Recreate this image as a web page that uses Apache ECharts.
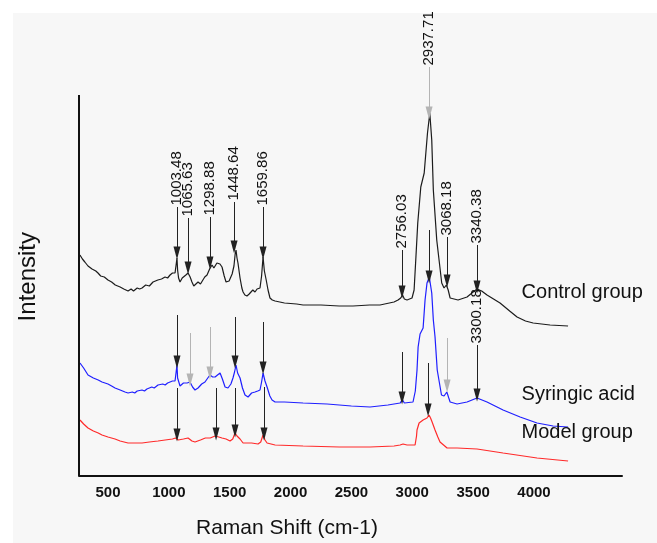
<!DOCTYPE html>
<html>
<head>
<meta charset="utf-8">
<script src="https://cdn.jsdelivr.net/npm/echarts@6/dist/echarts.min.js"></script>
<style>html,body{margin:0;padding:0;background:#fff;}#c{width:657px;height:543px;}</style>
</head>
<body>
<div id="c"></div>
<script>
// Raman shift (axis units) vs intensity (arbitrary units, offset stacked)
const tickLabels = [500, 1000, 1500, 2000, 2500, 3000, 3500, 4000];
const seriesNames = ['Control group', 'Syringic acid', 'Model group'];

const controlGroup = [[270,221],[290,217],[310,214],[336,210],[369,207],[400,205],[418,203],[440,200],[470,199],[500,196],[530,194],[560,191],[600,189],[630,187],[665,185],[690,187],[710,185],[740,188],[760,187],[780,188],[810,191],[840,190],[870,194],[886,194],[910,196],[940,197],[969,199],[990,198],[1010,201],[1030,203],[1051,203],[1060,204],[1067,218],[1072,206],[1080,198],[1092,194],[1110,198],[1125,196],[1140,201],[1158,203],[1175,199],[1190,194],[1205,190],[1215,191],[1240,194],[1260,192],[1273,193],[1295,199],[1314,201],[1335,207],[1355,211],[1370,208],[1380,209],[1395,213],[1404,213],[1420,212],[1437,209],[1455,200],[1470,194],[1478,194],[1495,195],[1503,196],[1520,202],[1535,210],[1545,222],[1552,226],[1560,218],[1568,213],[1585,198],[1600,188],[1610,184],[1625,181],[1642,180],[1660,182],[1675,184],[1690,186],[1708,184],[1725,187],[1749,188],[1762,200],[1774,219],[1785,205],[1800,196],[1815,186],[1831,178],[1850,176],[1873,175],[1950,173],[2050,172],[2103,171],[2250,171],[2400,170],[2513,170],[2650,171],[2735,171],[2850,174],[2883,176],[2905,178],[2920,181],[2935,177],[2957,176],[2998,178],[3015,186],[3030,219],[3045,253],[3070,289],[3098,303],[3125,343],[3144,363],[3160,336],[3173,286],[3201,236],[3242,193],[3261,188],[3280,191],[3295,186],[3311,178],[3376,176],[3450,179],[3500,184],[3532,187],[3570,185],[3614,181],[3721,173],[3800,165],[3861,159],[3930,155],[3993,153],[4132,151],[4280,150]];

const syringicAcid = [[270,113],[300,108],[336,101],[380,98],[420,96],[451,94],[500,92],[530,90],[558,88],[600,86],[640,84],[665,83],[700,84],[720,83],[740,85],[780,86],[800,85],[820,87],[860,89],[880,88],[911,91],[950,92],[970,91],[990,93],[1030,95],[1051,95],[1060,96],[1067,111],[1072,98],[1092,90],[1120,93],[1150,93],[1174,94],[1195,89],[1215,86],[1240,88],[1270,92],[1297,94],[1320,98],[1338,101],[1360,99],[1380,99],[1400,101],[1421,103],[1440,97],[1462,89],[1486,88],[1510,92],[1527,98],[1540,104],[1552,111],[1565,103],[1585,98],[1605,88],[1626,81],[1651,79],[1680,83],[1708,84],[1730,85],[1749,86],[1762,94],[1774,103],[1790,95],[1807,89],[1830,80],[1848,76],[1873,74],[1950,74],[2103,73],[2300,72],[2500,70],[2653,69],[2800,71],[2900,73],[2920,76],[2935,73],[3006,74],[3025,85],[3039,106],[3048,129],[3064,142],[3089,148],[3105,176],[3121,193],[3140,199],[3160,183],[3173,156],[3187,139],[3205,106],[3240,81],[3261,80],[3284,84],[3300,78],[3311,74],[3368,72],[3450,74],[3532,78],[3614,74],[3746,66],[3886,59],[4025,53],[4157,50],[4280,49]];

const modelGroup = [[270,56],[300,52],[336,48],[380,45],[420,43],[451,41],[500,39],[558,37],[600,35],[665,33],[720,33],[780,33],[840,34],[911,35],[970,36],[1030,37],[1055,38],[1067,40],[1078,36],[1092,35],[1120,37],[1158,38],[1190,35],[1215,34],[1260,36],[1300,38],[1340,38],[1380,40],[1410,39],[1437,38],[1470,37],[1503,35],[1525,37],[1544,43],[1560,40],[1585,37],[1610,33],[1626,32],[1680,33],[1733,32],[1755,34],[1774,41],[1790,36],[1807,33],[1840,32],[1873,31],[2103,30],[2400,29],[2653,29],[2850,30],[2900,31],[2924,32],[2957,31],[3023,31],[3035,40],[3039,46],[3056,53],[3089,56],[3121,58],[3138,61],[3150,58],[3163,54],[3187,46],[3210,39],[3228,34],[3286,28],[3368,28],[3532,27],[3746,23],[4025,18],[4280,15]];

// peak annotations: label text, x position, arrow tail and tip (intensity units)
const controlPeaks = [
  ['1003.48', 1067, 269, 223],
  ['1065.63', 1158, 258, 208],
  ['1298.88', 1338, 259, 213],
  ['1448.64', 1536, 274, 229],
  ['1659.86', 1774, 269, 223],
  ['2756.03', 2916, 226, 184],
  ['2937.71', 3138, 409, 363],
  ['3068.18', 3286, 239, 195],
  ['3340.38', 3532, 231, 189]
];
const syringicPeaks = [
  ['', 1067, 161, 114],
  ['', 1174, 143, 96],
  ['', 1338, 149, 103],
  ['', 1544, 159, 114],
  ['', 1774, 154, 108],
  ['', 2916, 124, 78],
  ['', 3138, 246, 199],
  ['', 3286, 138, 90],
  ['3300.18', 3532, 131, 81]
];
const modelPeaks = [
  ['', 1067, 88, 41],
  ['', 1388, 88, 42],
  ['', 1544, 88, 45],
  ['', 1782, 89, 42],
  ['', 3130, 113, 66]
];
// group label anchor (x, intensity)
const groupLabelPos = [[3902, 183], [3902, 81], [3902, 43]];

const FONT = 'Liberation Sans, Arial, Helvetica, sans-serif';
const controlLight = {'3138': 1};
const syringicLight = {'1174': 1, '1338': 1, '3286': 1};

function arrows(peaks, lightSet) {
  return peaks.map(p => {
    const light = lightSet && lightSet[String(p[1])];
    return [
      {coord: [p[1], p[2]], lineStyle: {color: light ? '#b4b4b4' : '#222', width: 1}},
      {coord: [p[1], p[3]]}
    ];
  });
}
function peakLabels(peaks) {
  return peaks.filter(p => p[0]).map(p => ({
    coord: [p[1], p[2] + 1],
    value: p[0],
    symbol: 'circle', symbolSize: 1, itemStyle: {color: 'rgba(0,0,0,0)'},
    label: {show: true, formatter: p[0], rotate: 90, position: [0, 0], align: 'left', verticalAlign: 'middle',
      fontFamily: FONT, fontSize: 15, color: '#111'}
  }));
}
function groupLabel(i) {
  return {
    coord: groupLabelPos[i], symbol: 'circle', symbolSize: 1, itemStyle: {color: 'rgba(0,0,0,0)'},
    label: {show: true, formatter: seriesNames[i], position: [0, 0], align: 'left', verticalAlign: 'middle',
      fontFamily: FONT, fontSize: 20, color: '#111'}
  };
}
function series(i, data, color, peaks, lightSet, extraLines) {
  return {
    name: seriesNames[i], type: 'line', data: data, showSymbol: false, clip: false,
    lineStyle: {color: color, width: 1.2}, silent: true, animation: false,
    markLine: {
      silent: true, animation: false, symbol: ['none', 'triangle'], symbolSize: [7, 13],
      label: {show: false}, lineStyle: {color: '#222', width: 1, type: 'solid'},
      itemStyle: {color: '#222'},
      data: arrows(peaks, lightSet).concat(extraLines || [])
    },
    markPoint: {
      silent: true, animation: false,
      data: peakLabels(peaks).concat([groupLabel(i)])
    }
  };
}

const chart = echarts.init(document.getElementById('c'), null, {renderer: 'canvas'});
const xMin = 262, xMax = 4723;
chart.setOption({
  backgroundColor: '#ffffff',
  animation: false,
  graphic: [
    {type: 'rect', left: 13, top: 13, shape: {width: 644, height: 530}, style: {fill: '#f7f7f7'}, z: -10, silent: true},
    {type: 'text', left: 16, top: 232, rotation: Math.PI / 2, style: {text: 'Intensity', font: '24px ' + FONT, fill: '#111'}},
    {type: 'text', left: 196, top: 518, style: {text: 'Raman Shift (cm-1)', font: '21px ' + FONT, fill: '#111'}}
  ],
  grid: {left: 79, right: 35, top: 5, bottom: 67, containLabel: false},
  xAxis: {
    type: 'value', min: xMin, max: xMax,
    axisLine: {show: true, lineStyle: {color: '#111', width: 2}},
    axisTick: {show: false},
    splitLine: {show: false},
    axisLabel: {customValues: tickLabels, formatter: v => String(v), margin: 9, fontFamily: FONT, fontWeight: 'bold', fontSize: 15, color: '#111'}
  },
  yAxis: {
    type: 'value', min: 0, max: 471, show: false,
    splitLine: {show: false}
  },
  series: [
    series(0, controlGroup, '#1c1c1c', controlPeaks, controlLight, [
      [{coord: [xMin, 0], lineStyle: {color: '#111', width: 2}, symbol: 'none'}, {coord: [xMin, 381], symbol: 'none'}]
    ]),
    series(1, syringicAcid, '#1f1fff', syringicPeaks, syringicLight),
    series(2, modelGroup, '#ff2a2a', modelPeaks, {})
  ]
});
</script>
</body>
</html>
